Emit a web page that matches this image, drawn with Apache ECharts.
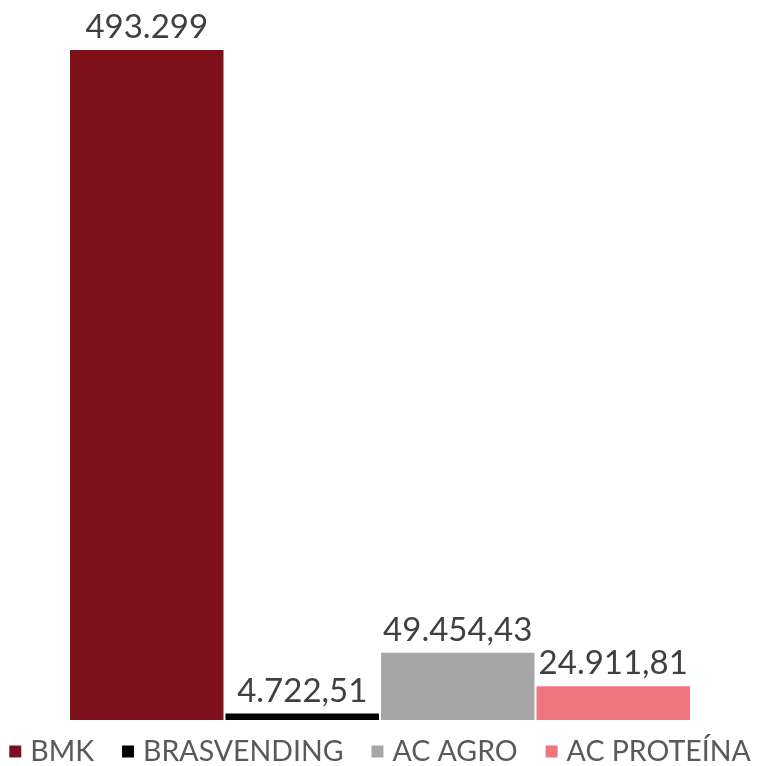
<!DOCTYPE html>
<html><head><meta charset="utf-8">
<script src="https://cdn.jsdelivr.net/npm/echarts@6/dist/echarts.min.js"></script>
<style>html,body{margin:0;padding:0;background:#fff}#c{width:760px;height:766px}</style>
</head><body><div id="c"></div>
<script>
const seriesNames = ['BMK', 'BRASVENDING', 'AC AGRO', 'AC PROTEÍNA'];
const seriesValues = [493299, 4722.51, 49454.43, 24911.81];
const valueLabels = ['493.299', '4.722,51', '49.454,43', '24.911,81'];
const colors = ['#7D101B', '#000000', '#A6A6A6', '#EF7580'];

const chart = echarts.init(document.getElementById('c'));
chart.setOption({
  animation: false,
  grid: { left: 70, right: 70, top: 50, bottom: 46 },
  legend: {
    bottom: -5, left: 'center',
    itemWidth: 12, itemHeight: 12, itemGap: 28,
    icon: 'rect',
    textStyle: { fontFamily: 'Lato', fontSize: 28.5, color: '#595959', padding: [0, 0, 0, 4] },
    data: seriesNames
  },
  xAxis: { type: 'category', data: [''], show: false },
  yAxis: { type: 'value', min: 0, max: seriesValues[0], show: false },
  series: seriesNames.map((n, i) => ({
    name: n, type: 'bar', barWidth: 153.5, barGap: '1.3%',
    itemStyle: { color: colors[i] },
    label: {
      show: true, position: 'top', distance: 6,
      fontFamily: 'Lato', fontSize: 33, color: '#404040',
      formatter: () => valueLabels[i]
    },
    data: [seriesValues[i]]
  }))
});
</script></body></html>
